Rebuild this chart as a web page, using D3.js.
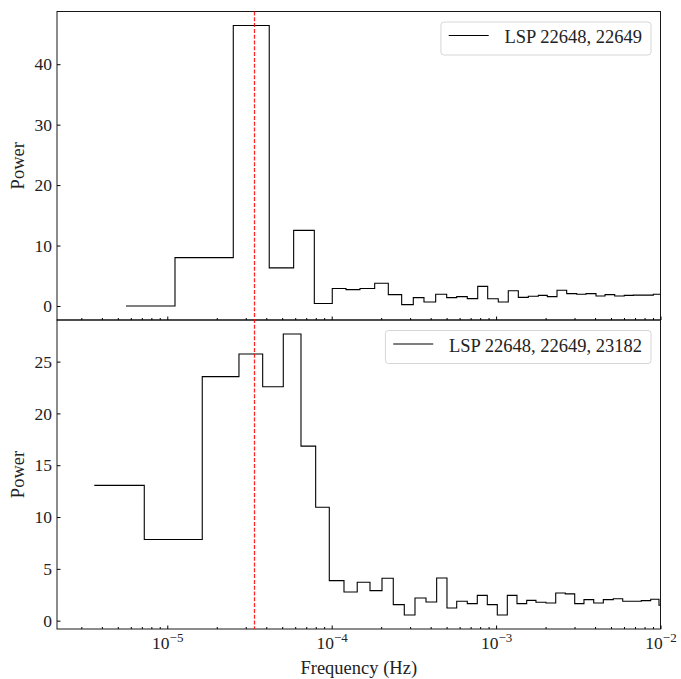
<!DOCTYPE html>
<html>
<head>
<meta charset="utf-8">
<script src="https://cdn.jsdelivr.net/npm/d3@7"></script>
<style>
  body { margin: 0; background: #fff; }
  svg { display: block; }
</style>
</head>
<body>
<svg id="chart" width="681" height="679" xmlns="http://www.w3.org/2000/svg"></svg>
<script>
// bin edges (Hz) and power for each periodogram
const topEdges = [5.61e-6, 1.114e-5, 2.52e-5, 4.17e-5, 5.87e-5, 7.84e-5, 1.008e-4, 1.222e-4,
  1.486e-4, 1.826e-4, 2.21e-4, 2.665e-4, 3.136e-4, 3.642e-4, 4.29e-4, 5.005e-4, 5.76e-4,
  6.68e-4, 7.73e-4, 8.89e-4, 1.031e-3, 1.186e-3, 1.365e-3, 1.57e-3, 1.806e-3, 2.048e-3,
  2.347e-3, 2.688e-3, 3.093e-3, 3.522e-3, 4.053e-3, 4.597e-3, 5.266e-3, 6.02e-3, 6.83e-3,
  7.86e-3, 9.04e-3, 1.0e-2];
const topPower = [0, 8.0, 46.4, 6.3, 12.5, 0.4, 2.9, 2.7, 2.9, 3.75, 1.87, 0.22, 1.38, 0.66,
  1.93, 1.38, 1.55, 1.21, 3.25, 1.2, 0.66, 2.53, 1.43, 1.6, 1.76, 1.55, 2.6, 2.04, 1.93,
  2.04, 1.65, 1.87, 1.65, 1.76, 1.8, 1.8, 1.93];

const bottomEdges = [3.597e-6, 7.245e-6, 1.632e-5, 2.729e-5, 3.804e-5, 5.077e-5, 6.505e-5,
  7.99e-5, 9.67e-5, 1.188e-4, 1.43e-4, 1.71e-4, 2.023e-4, 2.369e-4, 2.764e-4, 3.211e-4,
  3.746e-4, 4.35e-4, 5.026e-4, 5.76e-4, 6.68e-4, 7.686e-4, 8.84e-4, 1.017e-3, 1.17e-3,
  1.34e-3, 1.535e-3, 1.748e-3, 2.011e-3, 2.305e-3, 2.635e-3, 3.007e-3, 3.424e-3, 3.924e-3,
  4.489e-3, 5.163e-3, 5.89e-3, 6.708e-3, 7.64e-3, 8.72e-3, 9.79e-3, 1.03e-2];
const bottomPower = [13.06, 7.83, 23.55, 25.73, 22.58, 27.66, 16.84, 10.95, 3.86, 2.77, 3.7,
  2.9, 4.09, 1.55, 0.55, 2.19, 1.8, 4.12, 1.22, 1.87, 1.64, 2.44, 1.55, 0.55, 2.44, 1.64,
  1.96, 1.77, 1.7, 2.67, 2.58, 1.64, 2.03, 1.7, 2.03, 2.12, 1.87, 1.87, 1.93, 2.06, 1.48];

const markerFreq = 3.35e-5;
const xDomain = [2.134e-6, 1e-2];
const xMajorTicks = [1e-5, 1e-4, 1e-3, 1e-2];
const xTickExponents = ['−5', '−4', '−3', '−2'];
const topYTicks = [0, 10, 20, 30, 40];
const bottomYTicks = [0, 5, 10, 15, 20, 25];
const topLabel = 'LSP 22648, 22649';
const bottomLabel = 'LSP 22648, 22649, 23182';

const Layout = {
  left: 57,
  right: 660.5,
  top: 11.5,
  mid: 320,
  bottom: 629,
  font: "'Liberation Serif', 'DejaVu Serif', serif",
};

const svg = d3.select('#chart');

const x = d3.scaleLog().domain(xDomain).range([Layout.left, Layout.right]);

// minor ticks 2..9 per decade
const xMinorTicks = [];
for (let e = -6; e <= -3; e++) {
  for (let k = 2; k <= 9; k++) {
    const v = k * Math.pow(10, e);
    if (v > xDomain[0] && v < xDomain[1]) xMinorTicks.push(v);
  }
}

function paddedDomain(values) {
  const lo = d3.min(values);
  const hi = d3.max(values);
  const pad = (hi - lo) * 0.05;
  return [lo - pad, hi + pad];
}

function drawPanel(id, edges, power, y0, y1, yTicks, label, showXLabels) {
  const y = d3.scaleLinear().domain(paddedDomain(power)).range([y1, y0]);
  const g = svg.append('g');

  g.append('clipPath')
    .attr('id', 'clip-' + id)
    .append('rect')
    .attr('x', Layout.left)
    .attr('y', y0)
    .attr('width', Layout.right - Layout.left)
    .attr('height', y1 - y0);

  // step line: one point per bin start, plus the closing edge
  const pts = power.map((p, i) => [edges[i], p]);
  pts.push([edges[edges.length - 1], power[power.length - 1]]);

  const line = d3
    .line()
    .x(d => x(d[0]))
    .y(d => y(d[1]))
    .curve(d3.curveStepAfter);

  g.append('path')
    .attr('d', line(pts))
    .attr('clip-path', `url(#clip-${id})`)
    .style('fill', 'none')
    .style('stroke', '#000')
    .style('stroke-width', 1.1);

  // x axis (ticks inward)
  const xAxisMajor = d3.axisBottom(x).tickValues(xMajorTicks).tickSizeInner(-3.5).tickSizeOuter(0).tickPadding(7).tickFormat('');
  const xAxisMinor = d3.axisBottom(x).tickValues(xMinorTicks).tickSizeInner(-2).tickSizeOuter(0).tickFormat('');

  g.append('g').attr('transform', `translate(0,${y1})`).call(xAxisMinor).call(a => a.select('.domain').remove());
  const xg = g.append('g').attr('transform', `translate(0,${y1})`).call(xAxisMajor);
  xg.select('.domain').remove();
  xg.selectAll('.tick line').attr('stroke', '#000');

  if (showXLabels) {
    xg.selectAll('.tick text')
      .attr('y', 20)
      .attr('dy', null)
      .style('font-family', Layout.font)
      .style('font-size', '17.5px')
      .attr('fill', '#222')
      .each(function (d, i) {
        const t = d3.select(this);
        t.append('tspan').text('10');
        t.append('tspan').attr('dy', -7).style('font-size', '13px').text(xTickExponents[i]);
      });
  }

  // y axis
  const yAxis = d3.axisLeft(y).tickValues(yTicks).tickSizeInner(-3.5).tickSizeOuter(0).tickPadding(5);
  const yg = g.append('g').attr('transform', `translate(${Layout.left},0)`).call(yAxis);
  yg.select('.domain').remove();
  yg.selectAll('.tick text')
    .style('font-family', Layout.font)
    .style('font-size', '17.5px')
    .attr('fill', '#222');

  // frame
  g.append('rect')
    .attr('x', Layout.left)
    .attr('y', y0)
    .attr('width', Layout.right - Layout.left)
    .attr('height', y1 - y0)
    .style('fill', 'none')
    .style('stroke', '#000')
    .style('stroke-width', 0.9);

  // y label
  g.append('text')
    .attr('transform', `translate(24,${(y0 + y1) / 2}) rotate(-90)`)
    .attr('text-anchor', 'middle')
    .style('font-family', Layout.font)
    .style('font-size', '18.5px')
    .attr('fill', '#222')
    .text('Power');

  // legend, upper right
  const lg = g.append('g');
  const txt = lg
    .append('text')
    .attr('y', y0 + 31.5)
    .attr('text-anchor', 'end')
    .attr('x', Layout.right - 18.5)
    .style('font-family', Layout.font)
    .style('font-size', '18.5px')
    .attr('fill', '#222')
    .text(label);
  const textLen = txt.node().getComputedTextLength();
  const textStart = Layout.right - 18.5 - textLen;
  const boxRight = Layout.right - 9.5;
  const boxLeft = textStart - 63.5;

  lg.insert('rect', 'text')
    .attr('x', boxLeft)
    .attr('y', y0 + 10.5)
    .attr('width', boxRight - boxLeft)
    .attr('height', 33)
    .attr('rx', 3)
    .style('fill', '#fff')
    .style('fill-opacity', 0.8)
    .style('stroke', '#d6d6d6')
    .style('stroke-width', 1);

  lg.append('line')
    .attr('x1', textStart - 55.7)
    .attr('x2', textStart - 15.7)
    .attr('y1', y0 + 24)
    .attr('y2', y0 + 24)
    .style('stroke', '#000')
    .style('stroke-width', 1.1);
}

drawPanel('top', topEdges, topPower, Layout.top, Layout.mid, topYTicks, topLabel, false);
drawPanel('bottom', bottomEdges, bottomPower, Layout.mid, Layout.bottom, bottomYTicks, bottomLabel, true);

// marker frequency across both panels
svg.append('line')
  .attr('x1', Math.round(x(markerFreq)) + 0.5)
  .attr('x2', Math.round(x(markerFreq)) + 0.5)
  .attr('y1', Layout.top)
  .attr('y2', Layout.bottom)
  .style('stroke', '#ff0000')
  .style('stroke-opacity', 0.85)
  .style('stroke-width', 1.3)
  .style('stroke-dasharray', '4,1.8');

svg.append('text')
  .attr('x', (Layout.left + Layout.right) / 2)
  .attr('y', 674)
  .attr('text-anchor', 'middle')
  .style('font-family', Layout.font)
  .style('font-size', '18.5px')
  .attr('fill', '#222')
  .text('Frequency (Hz)');
</script>
</body>
</html>
